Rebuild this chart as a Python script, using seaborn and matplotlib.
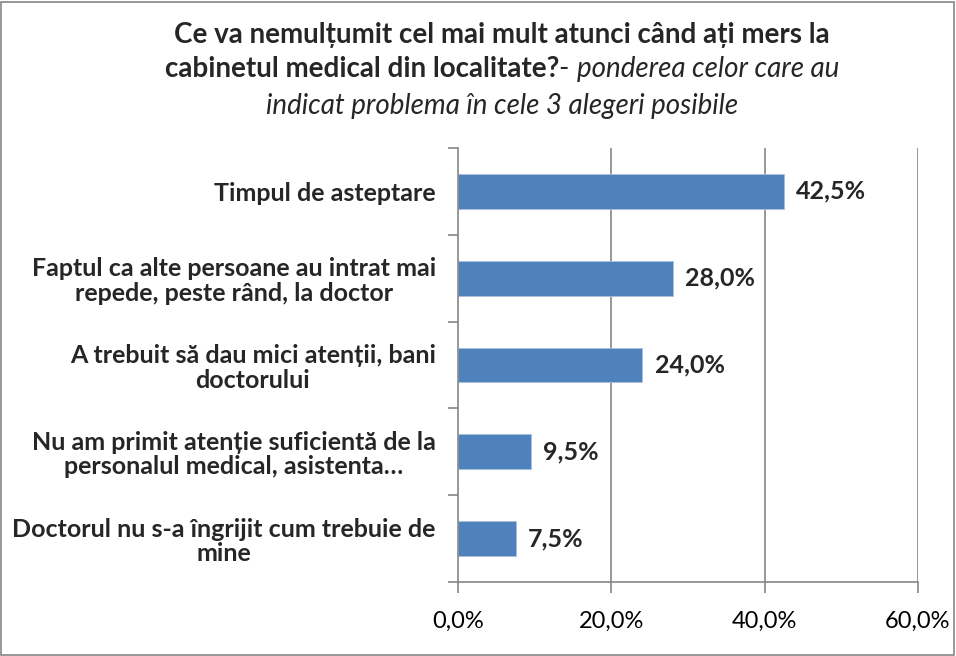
import matplotlib
matplotlib.use("Agg")
import matplotlib.pyplot as plt
import seaborn as sns
import pandas as pd
from matplotlib.patches import Rectangle

categories = [
    "Timpul de asteptare",
    "Faptul ca alte persoane au intrat mai\nrepede, peste rând, la doctor",
    "A trebuit să dau mici atenții, bani\ndoctorului",
    "Nu am primit atenție suficientă de la\npersonalul medical, asistenta…",
    "Doctorul nu s-a îngrijit cum trebuie de\nmine",
]
values = [42.5, 28.0, 24.0, 9.5, 7.5]
xticks = [0, 20, 40, 60]
xtick_labels = ["0,0%", "20,0%", "40,0%", "60,0%"]

sns.set_theme(style="white")
FAM = ["Lato", "DejaVu Sans"]
plt.rcParams["font.family"] = FAM

W, H = 956, 656
fig = plt.figure(figsize=(W / 100, H / 100), dpi=100)
ax = fig.add_axes([458 / W, 1 - 582 / H, (918 - 458) / W, (582 - 148) / H])

df = pd.DataFrame({"cat": categories, "val": values})
sns.barplot(data=df, x="val", y="cat", orient="h", color="#4F81BD",
            saturation=1, width=0.4, ax=ax, edgecolor="#A9C0DE", linewidth=0.6)

ax.set_xlim(0, 60)
ax.set_ylim(len(categories) - 0.5, -0.5)
ax.set_xlabel("")
ax.set_ylabel("")
ax.set_xticks(xticks)
ax.set_xticklabels(xtick_labels, fontsize=17, color="#000000")
ax.tick_params(axis="x", length=8, width=1.2, color="#868686", direction="out", pad=13,
               bottom=True)
ax.set_yticks([i - 0.5 for i in range(len(categories) + 1)])
ax.set_yticklabels([])
ax.tick_params(axis="y", which="major", length=7, width=1.2, color="#868686",
               direction="out", left=True)
ax.set_yticks(range(len(categories)), minor=True)
ax.set_yticklabels(categories, minor=True, fontsize=18, fontweight="bold",
                   multialignment="center", linespacing=1.08)
ax.tick_params(axis="y", which="minor", length=0, pad=16)

ax.grid(False)
for x in xticks[1:]:
    ax.axvline(x, color="#868686", lw=1.2, zorder=0)
for s in ["top", "right"]:
    ax.spines[s].set_visible(False)
for s in ["left", "bottom"]:
    ax.spines[s].set_color("#868686")
    ax.spines[s].set_linewidth(1.2)

for i, v in enumerate(values):
    ax.annotate(f"{v:.1f}%".replace(".", ","), xy=(v, i), xytext=(9, 0),
                textcoords="offset points", va="center", ha="left",
                fontsize=18, fontweight="bold")

fig.canvas.draw()
r = fig.canvas.get_renderer()
TS = 20
CX = 0.525
fig.text(CX, 1 - 35 / H, "Ce va nemulțumit cel mai mult atunci când ați mers la",
         ha="center", va="center", fontsize=TS, fontweight="bold")
parts = [("cabinetul medical din localitate?", "bold", "normal"),
         ("- ", "normal", "normal"),
         ("ponderea celor care au", "normal", "italic")]
texts = []
for s, w, st in parts:
    t = fig.text(0, 1 - 69 / H, s, ha="left", va="center", fontsize=TS,
                 fontweight=w, fontstyle=st)
    texts.append(t)
widths = [t.get_window_extent(renderer=r).width for t in texts]
start = CX * W - sum(widths) / 2
for t, wd in zip(texts, widths):
    t.set_x(start / W)
    start += wd
fig.text(CX, 1 - 106 / H, "indicat problema în cele 3 alegeri posibile",
         ha="center", va="center", fontsize=TS, fontstyle="italic")

fig.patches.append(Rectangle((1 / W, 1 / H), (W - 3) / W, (H - 3) / H,
                             transform=fig.transFigure, fill=False,
                             edgecolor="#868686", lw=1.2))

fig.savefig("out.png", dpi=100)
